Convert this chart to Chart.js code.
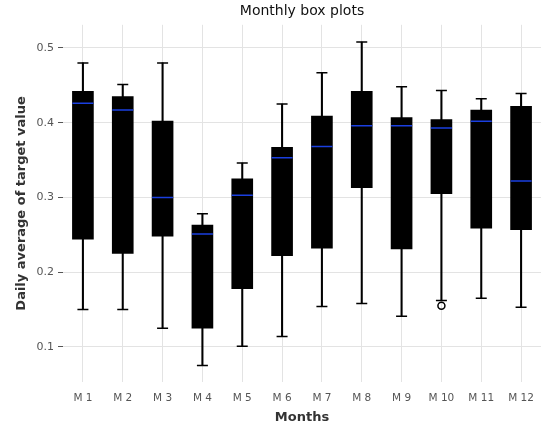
<!DOCTYPE html>
<html>
<head>
<meta charset="utf-8">
<script src="https://cdn.jsdelivr.net/npm/chart.js@4"></script>
<style>
  html, body { margin: 0; padding: 0; background: #fff; }
  #wrap { width: 541px; height: 425px; }
</style>
</head>
<body>
<div id="wrap"><canvas id="myChart"></canvas></div>
<script>
const months = ['M 1','M 2','M 3','M 4','M 5','M 6','M 7','M 8','M 9','M 10','M 11','M 12'];
const whiskerLow  = [0.150, 0.150, 0.125, 0.075, 0.101, 0.114, 0.154, 0.158, 0.141, 0.162, 0.165, 0.153];
const q1          = [0.244, 0.225, 0.248, 0.125, 0.178, 0.222, 0.232, 0.313, 0.231, 0.305, 0.259, 0.257];
const median      = [0.426, 0.417, 0.300, 0.251, 0.303, 0.353, 0.368, 0.396, 0.396, 0.393, 0.402, 0.322];
const q3          = [0.442, 0.435, 0.402, 0.263, 0.325, 0.367, 0.409, 0.442, 0.407, 0.404, 0.417, 0.422];
const whiskerHigh = [0.480, 0.451, 0.480, 0.278, 0.346, 0.425, 0.467, 0.508, 0.448, 0.443, 0.432, 0.439];
const outliers    = [null, null, null, null, null, null, null, null, null, 0.155, null, null];
const yTicks = [0.1, 0.2, 0.3, 0.4, 0.5];

const ctx = document.getElementById('myChart').getContext('2d');
const myChart = new Chart(ctx, {
    type: 'bar',
    data: {
        labels: months,
        datasets: [{
            label: 'whisker',
            data: months.map((m, i) => [whiskerLow[i], whiskerHigh[i]]),
            backgroundColor: '#000',
            barThickness: 1.4,
            grouped: false,
            order: 3
        }, {
            label: 'box',
            data: months.map((m, i) => [q1[i], q3[i]]),
            backgroundColor: '#000',
            borderWidth: 0,
            barThickness: 21,
            grouped: false,
            order: 2
        }, {
            type: 'line',
            label: 'capLow',
            data: whiskerLow,
            showLine: false,
            pointStyle: 'line',
            pointRadius: 5.5,
            pointBorderWidth: 1.5,
            borderColor: '#000',
            order: 1
        }, {
            type: 'line',
            label: 'capHigh',
            data: whiskerHigh,
            showLine: false,
            pointStyle: 'line',
            pointRadius: 5.5,
            pointBorderWidth: 1.5,
            borderColor: '#000',
            order: 1
        }, {
            type: 'line',
            label: 'median',
            data: median,
            showLine: false,
            pointStyle: 'line',
            pointRadius: 10.5,
            pointBorderWidth: 1.5,
            borderColor: '#1a3fe0',
            order: 0
        }, {
            type: 'line',
            label: 'outlier',
            data: outliers,
            showLine: false,
            pointStyle: 'circle',
            pointRadius: 3.5,
            pointBorderWidth: 1.5,
            borderColor: '#000',
            backgroundColor: 'rgba(0,0,0,0)',
            order: 0
        }]
    },
    options: {
        responsive: true,
        maintainAspectRatio: false,
        animation: false,
        layout: { padding: 0, autoPadding: false },
        plugins: {
            legend: { display: false },
            tooltip: { enabled: false },
            title: {
                display: true,
                text: 'Monthly box plots',
                color: '#111',
                fullSize: false,
                font: { family: 'DejaVu Sans', size: 14, weight: 'normal' },
                padding: { top: 3, bottom: 5 }
            }
        },
        scales: {
            x: {
                offset: true,
                grid: { color: '#e3e3e3', drawTicks: false, offset: false },
                border: { display: false },
                ticks: { color: '#555', font: { family: 'DejaVu Sans', size: 10.5 }, padding: 10 },
                title: {
                    display: true,
                    text: 'Months',
                    color: '#333',
                    font: { family: 'DejaVu Sans', size: 13, weight: 'bold' },
                    padding: { top: 0, bottom: 0 }
                },
                afterFit: s => { s.height = 43; s.paddingLeft = 0; s.paddingRight = 0; }
            },
            y: {
                min: 0.053,
                max: 0.531,
                afterBuildTicks: s => { s.ticks = yTicks.map(v => ({ value: v })); },
                grid: { color: '#e3e3e3', tickColor: '#555', tickLength: 5 },
                border: { display: false },
                ticks: {
                    color: '#555',
                    font: { family: 'DejaVu Sans', size: 11 },
                    padding: 4,
                    callback: v => v.toFixed(1)
                },
                title: {
                    display: true,
                    text: 'Daily average of target value',
                    color: '#333',
                    font: { family: 'DejaVu Sans', size: 13, weight: 'bold' },
                    padding: { top: 14, bottom: 0 }
                },
                afterFit: s => { s.width = 63; s.paddingTop = 0; s.paddingBottom = 0; }
            }
        }
    }
});
</script>
</body>
</html>
